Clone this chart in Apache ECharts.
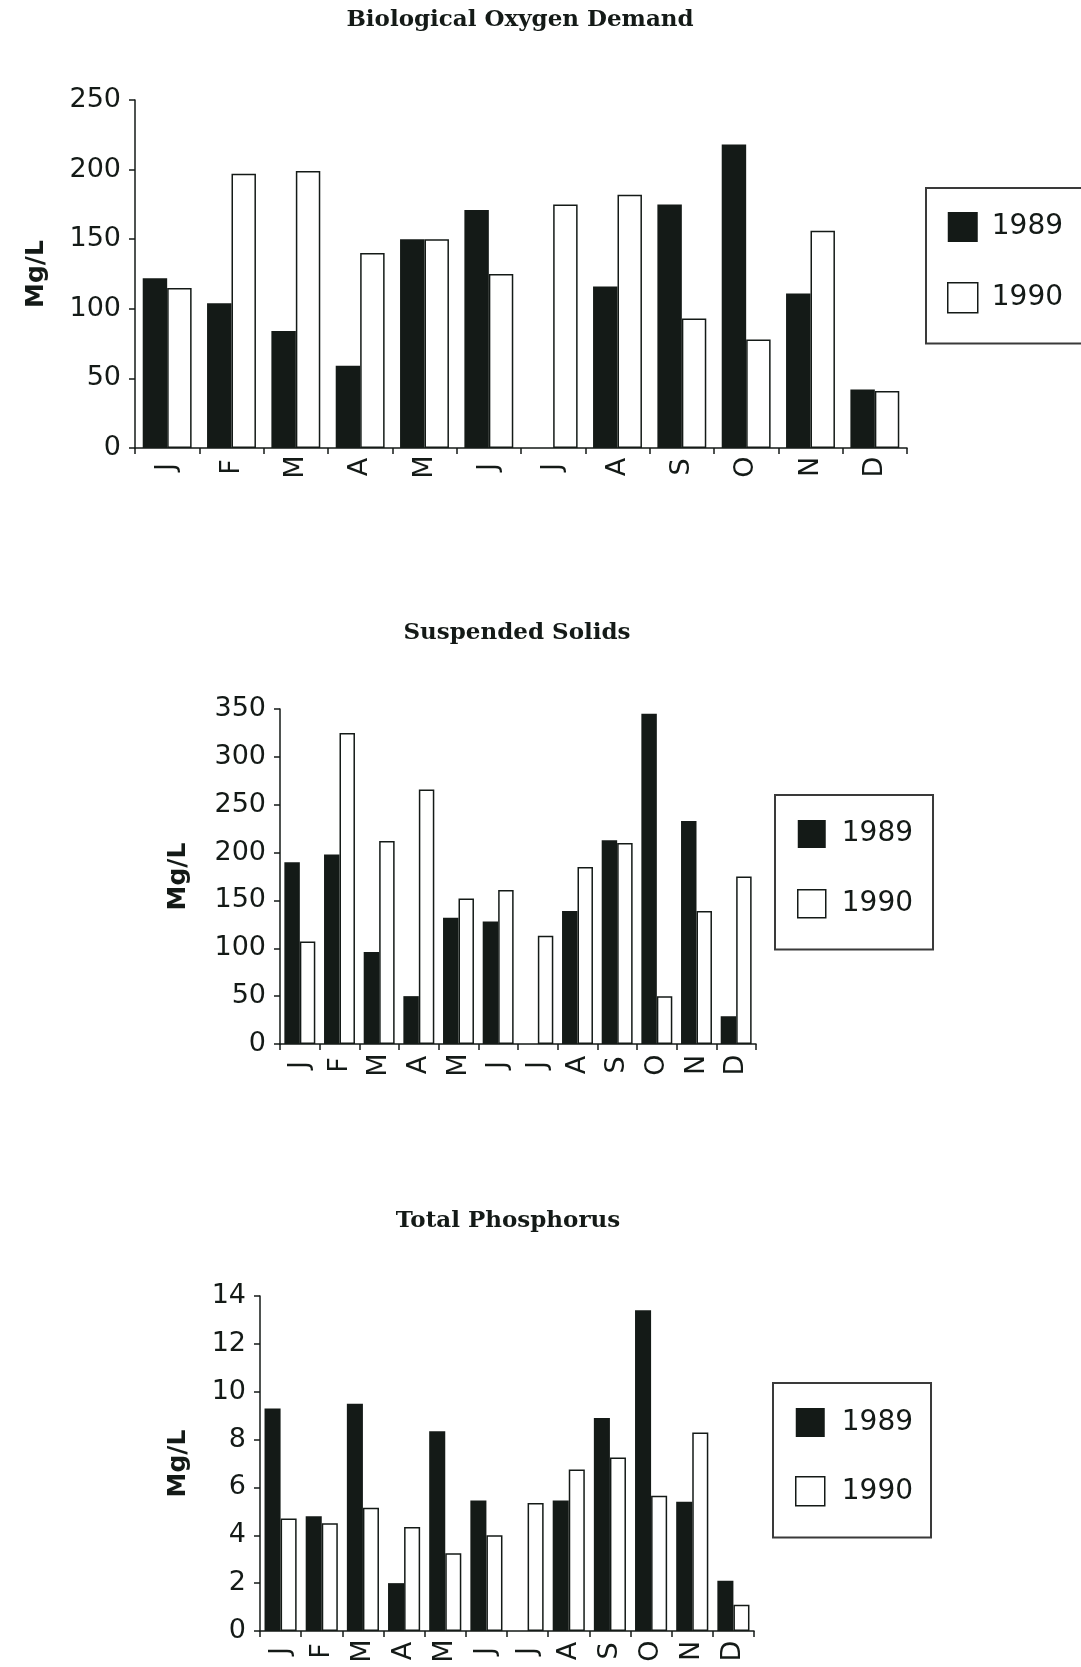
<!DOCTYPE html>
<html>
<head>
<meta charset="utf-8">
<script src="https://cdn.jsdelivr.net/npm/echarts@6/dist/echarts.min.js"></script>
<style>
  html, body { margin: 0; padding: 0; background: #fff; }
  #chart { width: 1081px; height: 1667px; }
</style>
</head>
<body>
<div id="chart"></div>
<script>
// Month initials along each x axis
const months = ['J', 'F', 'M', 'A', 'M', 'J', 'J', 'A', 'S', 'O', 'N', 'D'];
const years = ['1989', '1990'];

// Biological Oxygen Demand (Mg/L)
const bod1989 = [122, 104, 84, 59, 150, 171, null, 116, 175, 218, 111, 42];
const bod1990 = [115, 197, 199, 140, 150, 125, 175, 182, 93, 78, 156, 41];
const bodTicks = [0, 250, 50];   // min, max, step

// Suspended Solids (Mg/L)
const ss1989 = [190, 198, 96, 50, 132, 128, null, 139, 213, 345, 233, 29];
const ss1990 = [107, 325, 212, 266, 152, 161, 113, 185, 210, 50, 139, 175];
const ssTicks = [0, 350, 50];

// Total Phosphorus (Mg/L)
const tp1989 = [9.3, 4.8, 9.5, 2.0, 8.35, 5.45, null, 5.45, 8.9, 13.4, 5.4, 2.1];
const tp1990 = [4.7, 4.5, 5.15, 4.35, 3.25, 4.0, 5.35, 6.75, 7.25, 5.65, 8.3, 1.1];
const tpTicks = [0, 14, 2];

const FONT = 'DejaVu Sans';
const SERIF = 'DejaVu Serif';
const INK = '#141a17';

// Layout of the three stacked panels
const panels = [
  {
    title: 'Biological Oxygen Demand', a: bod1989, b: bod1990, ticks: bodTicks,
    titleX: 520, titleY: 22,
    grid: { left: 135, top: 100, width: 772, height: 348 },
    nameGap: 86, labelMargin: 19, catGap: '24%',
    legend: { left: 926, top: 188, size: 30, gap: 40, padding: [24, 30, 30, 21], textPad: 9 }
  },
  {
    title: 'Suspended Solids', a: ss1989, b: ss1990, ticks: ssTicks,
    titleX: 517, titleY: 635,
    grid: { left: 280, top: 709, width: 476, height: 335 },
    nameGap: 89, labelMargin: 21, catGap: '22%',
    legend: { left: 775, top: 795, size: 28, gap: 41, padding: [25, 20, 31, 22], textPad: 11 }
  },
  {
    title: 'Total Phosphorus', a: tp1989, b: tp1990, ticks: tpTicks,
    titleX: 508, titleY: 1223,
    grid: { left: 260, top: 1296, width: 494, height: 335 },
    nameGap: 69, labelMargin: 20, catGap: '22%',
    legend: { left: 773, top: 1383, size: 29, gap: 39, padding: [25, 18, 31, 22], textPad: 12 }
  }
];

const option = {
  backgroundColor: '#ffffff',
  animation: false,
  title: [], grid: [], xAxis: [], yAxis: [], series: [], legend: []
};

panels.forEach((p, i) => {
  option.title.push({
    text: p.title,
    left: p.titleX,
    top: p.titleY - 13,
    textAlign: 'center',
    padding: 0,
    textStyle: { fontFamily: SERIF, fontWeight: 'bold', fontSize: 23, color: INK }
  });

  option.grid.push(Object.assign({ containLabel: false, outerBoundsMode: 'none' }, p.grid));

  option.xAxis.push({
    type: 'category',
    gridIndex: i,
    data: months,
    axisLine: { show: true, lineStyle: { color: INK, width: 1.5 } },
    axisTick: { show: true, interval: 0, length: 6, lineStyle: { color: INK, width: 1.5 } },
    axisLabel: {
      interval: 0, rotate: 90, align: 'center', verticalAlign: 'middle',
      margin: p.labelMargin, fontFamily: FONT, fontSize: 27, color: INK
    },
    splitLine: { show: false }
  });

  option.yAxis.push({
    type: 'value',
    gridIndex: i,
    min: p.ticks[0], max: p.ticks[1], interval: p.ticks[2],
    name: 'Mg/L',
    nameLocation: 'middle',
    nameGap: p.nameGap,
    nameMoveOverlap: false,
    nameTextStyle: { fontFamily: FONT, fontWeight: 'bold', fontSize: 25, color: INK },
    axisLine: { show: true, lineStyle: { color: INK, width: 1.5 } },
    axisTick: { show: true, length: 6, lineStyle: { color: INK, width: 1.5 } },
    axisLabel: { margin: 14, fontFamily: FONT, fontSize: 27, color: INK },
    splitLine: { show: false }
  });

  option.series.push({
    name: years[0], type: 'bar', xAxisIndex: i, yAxisIndex: i, data: p.a,
    barGap: '0%', barCategoryGap: p.catGap,
    itemStyle: { color: INK }
  });
  option.series.push({
    name: years[1], type: 'bar', xAxisIndex: i, yAxisIndex: i, data: p.b,
    barGap: '0%', barCategoryGap: p.catGap,
    itemStyle: { color: '#ffffff', borderColor: INK, borderWidth: 1.5 }
  });

  const L = p.legend;
  option.legend.push({
    orient: 'vertical',
    left: L.left, top: L.top,
    itemWidth: L.size, itemHeight: L.size, itemGap: L.gap,
    padding: L.padding,
    borderColor: '#3a3a3a', borderWidth: 2,
    backgroundColor: '#ffffff',
    selectedMode: false,
    icon: 'rect',
    textStyle: { fontFamily: FONT, fontSize: 28, color: INK, padding: [0, 0, 0, L.textPad] },
    data: [
      { name: years[0], itemStyle: { color: INK, borderWidth: 0 } },
      { name: years[1], itemStyle: { color: '#ffffff', borderColor: INK, borderWidth: 1.5 } }
    ]
  });
});

const chart = echarts.init(document.getElementById('chart'), null, { renderer: 'canvas' });
chart.setOption(option);
</script>
</body>
</html>
